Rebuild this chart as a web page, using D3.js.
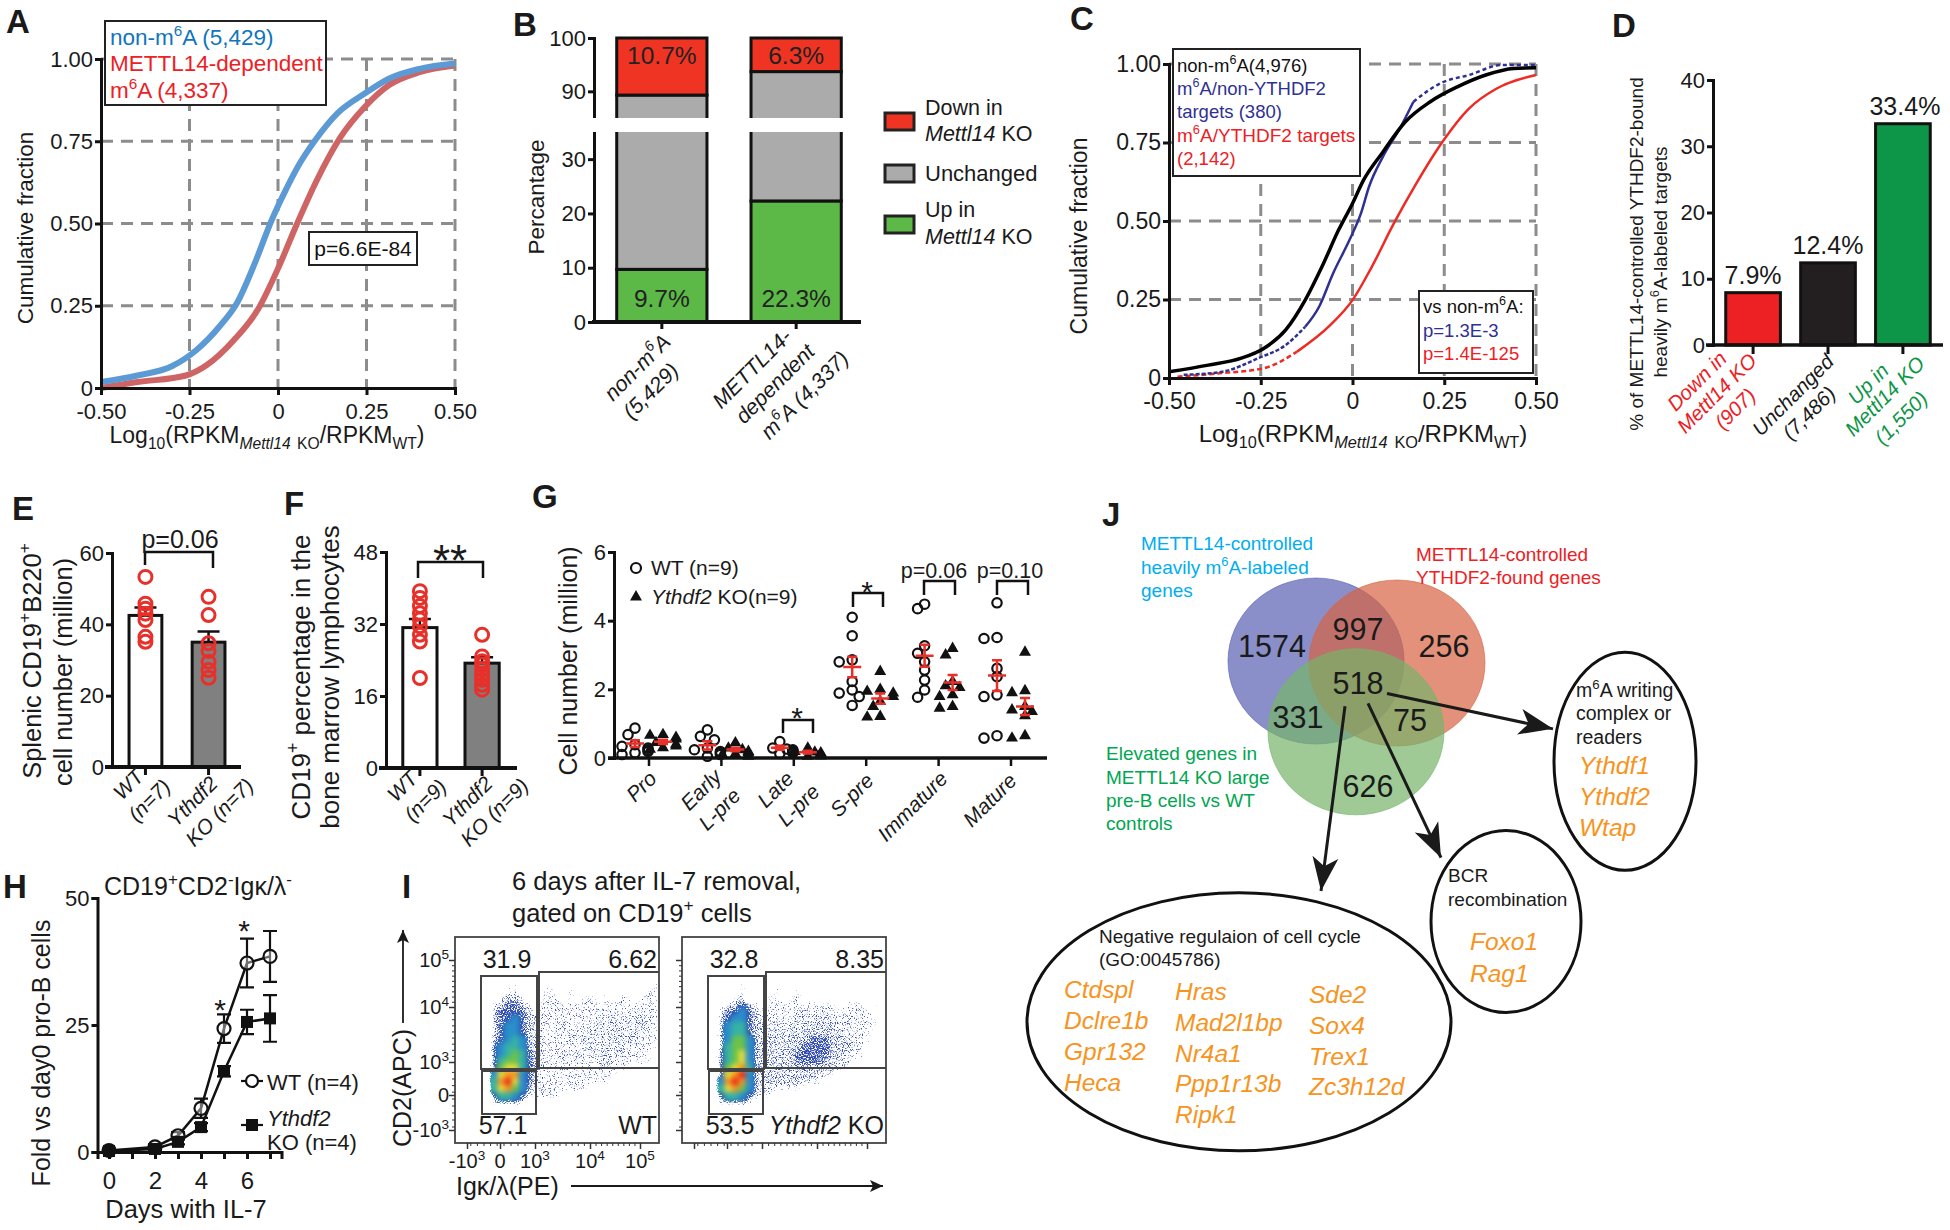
<!DOCTYPE html>
<html>
<head>
<meta charset="utf-8">
<script src="https://cdn.jsdelivr.net/npm/d3@7"></script>
<style>
  body { margin: 0; background: #fff; }
  svg text { font-family: "Liberation Sans", Arial, sans-serif; fill: #1a1a1a; }
</style>
</head>
<body>
<svg id="fig" width="1950" height="1230"></svg>
<script>
// ---- panel A: cumulative curves, [log ratio, fraction]
var aNonM6a = [[-0.5,0.018],[-0.397,0.038],[-0.3,0.066],[-0.232,0.114],[-0.163,0.19],[-0.115,0.26],[-0.066,0.378],[-0.018,0.51],[0.021,0.6],[0.06,0.68],[0.105,0.753],[0.167,0.834],[0.245,0.895],[0.313,0.94],[0.4,0.97],[0.5,0.986]];
var aMettl = [[-0.5,0],[-0.397,0.018],[-0.26,0.038],[-0.202,0.069],[-0.125,0.145],[-0.056,0.24],[0.002,0.368],[0.054,0.5],[0.109,0.63],[0.177,0.763],[0.245,0.854],[0.313,0.92],[0.4,0.96],[0.5,0.98]];
var curveTicksX = [-0.5,-0.25,0,0.25,0.5];
var curveTicksY = [0,0.25,0.5,0.75,1];

// ---- panel B
var bCategories = ["non-m6A","METTL14-dependent"];
var bUp = [9.7,22.3];
var bUnchanged = [79.6,71.4];
var bDown = [10.7,6.3];
var bTicks = [0,10,20,30,90,100];

// ---- panel C
var cNonM6a = [[-0.5,0.02],[-0.393,0.041],[-0.303,0.063],[-0.242,0.094],[-0.182,0.153],[-0.129,0.248],[-0.083,0.355],[-0.038,0.471],[0,0.556],[0.03,0.63],[0.083,0.72],[0.144,0.816],[0.212,0.88],[0.287,0.928],[0.363,0.965],[0.439,0.986],[0.5,0.988]];
var cNonYthdf2 = [[-0.46,0.01],[-0.355,0.02],[-0.257,0.063],[-0.182,0.105],[-0.129,0.163],[-0.091,0.227],[-0.053,0.333],[-0.008,0.44],[0.023,0.524],[0.045,0.609],[0.083,0.705],[0.129,0.795],[0.166,0.88],[0.242,0.94],[0.318,0.965],[0.408,0.997],[0.5,0.997]];
var cYthdf2 = [[-0.477,0.004],[-0.363,0.015],[-0.242,0.031],[-0.151,0.084],[-0.06,0.169],[0,0.248],[0.053,0.355],[0.113,0.493],[0.174,0.62],[0.242,0.747],[0.318,0.859],[0.393,0.922],[0.5,0.965]];

// ---- panel D
var dValues = [7.9,12.4,33.4];
var dLabels = ["7.9%","12.4%","33.4%"];
var dTicks = [0,10,20,30,40];

// ---- panel E
var eMeans = [42.5,35];
var eSem = [2.2,3];
var eWt = [53.3,45.8,44.4,43,41.2,36.5,35.1];
var eKo = [47.7,42.6,34.7,32.5,29.5,27.2,25];
var eTicks = [0,20,40,60];

// ---- panel F
var fMeans = [31.2,23.3];
var fSem = [1.9,1.3];
var fWt = [39.3,37.8,36,34.4,33,31.5,29.6,28.1,20];
var fKo = [29.6,24.8,23.7,23,21.9,20.7,19.6,18.5,17.4];
var fTicks = [0,16,32,48];

// ---- panel G
var gGroups = ["Pro","Early","Late","S-pre","Immature","Mature"];
var gWt = [
  [0.87,0.68,0.39,0.34,0.29,0.24,0.19,0.15,0.1],
  [0.82,0.63,0.53,0.29,0.24,0.19,0.15,0.1,0.05],
  [0.48,0.29,0.26,0.24,0.22,0.19,0.17,0.15,0.13],
  [4.1,3.56,2.86,2.8,2.23,1.98,1.89,1.79,1.53],
  [4.48,4.35,3.27,3.05,2.8,2.56,2.27,1.98,1.77],
  [4.52,3.51,3.48,2.61,2.37,1.84,1.79,0.65,0.58]
];
var gKo = [
  [0.68,0.66,0.6,0.55,0.45,0.4,0.35,0.3,0.25],
  [0.44,0.29,0.24,0.19,0.15,0.12,0.1,0.08,0.05],
  [0.29,0.19,0.17,0.15,0.12,0.1,0.08,0.06,0.05],
  [2.52,2,1.94,1.89,1.79,1.65,1.5,1.21,1.19],
  [3.19,3,2.23,2.1,2.05,1.84,1.79,1.5,1.45],
  [3.08,1.96,1.9,1.5,1.4,1.35,1.23,0.65,0.58]
];
var gWtMean = [0.42,0.37,0.3,2.65,2.98,2.4];
var gWtSem = [0.1,0.12,0.06,0.3,0.32,0.45];
var gKoMean = [0.47,0.25,0.17,1.73,2.2,1.5];
var gKoSem = [0.06,0.05,0.04,0.15,0.22,0.25];
var gTicks = [0,2,4,6];

// ---- panel H
var hDays = [0,2,3,4,5,6,7];
var hWt = [0.3,1,3.2,8.6,24.3,37.2,38.5];
var hWtSem = [0.3,0.5,0.7,1.9,2.8,4.8,5];
var hKo = [0.2,0.6,2,4.9,15.9,25.6,26.3];
var hKoSem = [0.2,0.3,0.5,0.8,1,2.4,4.6];
var hTicks = [0,1,2,3,4,5,6,7];
var hTickLabels = ["0","","2","","4","","6",""];

// ---- panel I: event density read by eye, one digit per cell (0 empty, 9 peak)
var iWtDensity = [
  "000000100001000000000000001",
  "000001100011001000100001011",
  "000012210011101011010110111",
  "000123321011111111111111111",
  "000233332111111111111111111",
  "000233432211111111112121211",
  "000234432211121111212121211",
  "000234432211111112121212111",
  "000234542211112121212122111",
  "000345542211111112121211111",
  "000345653211121212121211110",
  "000356653211111111121111110",
  "000367753211111111111110000",
  "000478843211111111111000000",
  "000589743111111111110000000",
  "000578642111111110000000000",
  "000355431111100000000000000",
  "000122210000000000000000000"
];
var iKoDensity = [
  "000000100000000000000000000",
  "000000100001001000000000000",
  "000001200011011010000000000",
  "000012321011111111110111010",
  "000233432111111211211111100",
  "000234432111112112211111110",
  "000245532212121222221211110",
  "000245532212122222222111100",
  "000246642222222233322211100",
  "000256642222222333322211000",
  "000356742222223333322111000",
  "000356742222223333222110000",
  "000367853222222222221100000",
  "000378942222222222110000000",
  "000489842222222211000000000",
  "000578642211111000000000000",
  "000355431110000000000000000",
  "000122210000000000000000000"
];
var iDensityColors = ["#ffffff","#3a55b5","#3a55b5","#2f4cb0","#2a8fca","#36b3a4","#6cc24a","#e6dc3a","#f5941f","#e8281e"];
var iDensityAlpha = [0,0.32,0.38,0.5,1,1,1,1,1,1];
var iPercentWt = ["31.9","6.62","57.1"];
var iPercentKo = ["32.8","8.35","53.5"];

// ---- panel J
var jRegions = ["1574","997","256","518","331","75","626"];
var jCycleGenes = [["Ctdspl","Dclre1b","Gpr132","Heca"],["Hras","Mad2l1bp","Nr4a1","Ppp1r13b","Ripk1"],["Sde2","Sox4","Trex1","Zc3h12d"]];
var jBcrGenes = ["Foxo1","Rag1"];
var jReaderGenes = ["Ythdf1","Ythdf2","Wtap"];

var RED = "#ed2024", BLUE = "#0f75bc", ORANGE = "#f7941d";

var svg = d3.select("#fig");
var defs = svg.append("defs");
defs.append("marker").attr("id","stealth").attr("markerUnits","userSpaceOnUse")
  .attr("viewBox","-2 -14 38 28").attr("refX",34).attr("refY",0)
  .attr("markerWidth",38).attr("markerHeight",28).attr("orient","auto")
  .append("path").attr("d","M0,-13L34,0L0,13L9,0Z").attr("fill","#1a1a1a");
defs.append("marker").attr("id","thin").attr("markerUnits","userSpaceOnUse")
  .attr("viewBox","-1 -7 15 14").attr("refX",13).attr("refY",0)
  .attr("markerWidth",15).attr("markerHeight",14).attr("orient","auto")
  .append("path").attr("d","M0,-6L13,0L0,6L3,0Z").attr("fill","#1a1a1a");

// grain for the flow plots: low density cells break up into specks, dense ones stay solid
var grain = defs.append("filter").attr("id","grain").attr("x","0").attr("y","0").attr("width","1").attr("height","1")
  .attr("color-interpolation-filters","sRGB");
grain.append("feGaussianBlur").attr("in","SourceGraphic").attr("stdDeviation",2.4).attr("result","soft");
grain.append("feTurbulence").attr("type","fractalNoise").attr("baseFrequency",0.85).attr("numOctaves",1).attr("seed",7).attr("result","noise");
grain.append("feColorMatrix").attr("in","noise").attr("type","matrix")
  .attr("values","0 0 0 0 0  0 0 0 0 0  0 0 0 0 0  1 0 0 0 0").attr("result","noiseA");
grain.append("feComposite").attr("in","noiseA").attr("in2","soft").attr("operator","arithmetic")
  .attr("k1",0).attr("k2",1).attr("k3",1).attr("k4",-0.92).attr("result","sum");
var maskT = grain.append("feComponentTransfer").attr("in","sum").attr("result","mask");
maskT.append("feFuncA").attr("type","linear").attr("slope",7).attr("intercept",0);
var solidT = grain.append("feComponentTransfer").attr("in","soft").attr("result","solid");
solidT.append("feFuncA").attr("type","linear").attr("slope",12).attr("intercept",0);
grain.append("feComposite").attr("in","solid").attr("in2","mask").attr("operator","in");

// ^x^ superscript, ~x~ subscript, *x* italic
function rich(x, y, str, size, color, anchor, rot) {
  var t = svg.append("text").attr("font-size",size).attr("text-anchor",anchor || "start");
  if (color) t.style("fill",color);
  if (rot !== undefined) t.attr("transform","translate("+x+","+y+") rotate("+rot+")");
  else t.attr("x",x).attr("y",y);
  var re = /(\^[^^]*\^|~[^~]*~|\*[^*]*\*)/;
  var pend = 0;
  str.split(re).forEach(function(part) {
    if (!part) return;
    var m = part[0], inner = part.slice(1,-1), s = t.append("tspan");
    if (m === "^" || m === "~") {
      var shift = m === "^" ? -0.42*size : 0.26*size;
      var it = inner[0] === "*";
      s.text(it ? inner.slice(1,-1) : inner).attr("font-size",size*0.68).attr("dy",pend + shift);
      if (it) s.attr("font-style","italic");
      pend = -shift;
    } else {
      if (pend) s.attr("dy",pend);
      pend = 0;
      if (m === "*") s.text(inner).attr("font-style","italic");
      else s.text(part);
    }
  });
  return t;
}

function star(x, y, size) {
  svg.append("text").attr("x",x).attr("y",y).attr("text-anchor","middle").attr("font-size",size).text("*");
}

function box(x, y, w, h) {
  svg.append("rect").attr("x",x).attr("y",y).attr("width",w).attr("height",h)
    .attr("fill","#fff").attr("stroke","#222").attr("stroke-width",2);
}

function axisStyle(g, size, width) {
  g.select(".domain").attr("stroke","#111").attr("stroke-width",width || 3);
  g.selectAll(".tick line").attr("stroke","#111").attr("stroke-width",width || 3);
  g.selectAll(".tick text").attr("font-size",size || 22).style("fill","#1a1a1a");
}
function leftAxis(scale, x, ticks, labels, size) {
  var g = svg.append("g").attr("transform","translate("+x+",0)")
    .call(d3.axisLeft(scale).tickValues(ticks).tickSizeOuter(0).tickSize(6).tickPadding(2)
      .tickFormat(function(d,i){ return labels ? labels[i] : d; }));
  axisStyle(g, size);
  return g;
}
function bottomAxis(scale, y, ticks, labels, size) {
  var g = svg.append("g").attr("transform","translate(0,"+y+")")
    .call(d3.axisBottom(scale).tickValues(ticks).tickSizeOuter(0).tickSize(7).tickPadding(8)
      .tickFormat(function(d,i){ return labels ? labels[i] : ""; }));
  axisStyle(g, size);
  return g;
}
function bracket(x0, x1, top, b0, b1) {
  svg.append("path").attr("fill","none").attr("stroke","#111").attr("stroke-width",2.5)
    .attr("d","M"+x0+","+b0+"V"+top+"H"+x1+"V"+b1);
}
function panelLetter(l, x, y) {
  svg.append("text").attr("x",x).attr("y",y).attr("font-size",33).attr("font-weight","bold").text(l);
}

// ---- cumulative panels A and C share this
function curvePanel(x, y, series, tickSize) {
  var grid = svg.append("g").attr("stroke","#8c8c8c").attr("stroke-width",3).attr("stroke-dasharray","12 8");
  curveTicksX.slice(1).forEach(function(t) {
    grid.append("line").attr("x1",x(t)).attr("x2",x(t)).attr("y1",y(1)).attr("y2",y(0));
  });
  curveTicksY.slice(1).forEach(function(t) {
    grid.append("line").attr("x1",x(-0.5)).attr("x2",x(0.5)).attr("y1",y(t)).attr("y2",y(t));
  });
  var line = d3.line().x(function(d){return x(d[0]);}).y(function(d){return y(d[1]);}).curve(d3.curveMonotoneX);
  series.forEach(function(s) {
    var p = svg.append("path").datum(s.data).attr("d",line).attr("fill","none")
      .attr("stroke",s.color).attr("stroke-width",s.width);
    if (s.dash) p.attr("stroke-dasharray",s.dash);
  });
  bottomAxis(x, y(0), curveTicksX, ["-0.50","-0.25","0","0.25","0.50"], tickSize);
  leftAxis(y.copy().domain([0,1]), x(-0.5), curveTicksY, ["0","0.25","0.50","0.75","1.00"], tickSize);
}

// Panel A
panelLetter("A",6,33);
var ax = d3.scaleLinear().domain([-0.5,0.5]).range([101,455]);
var ay = d3.scaleLinear().domain([0,1]).range([388,59]);
curvePanel(ax, ay, [{data:aMettl,color:"#cf6464",width:6},{data:aNonM6a,color:"#5b9ad4",width:6}], 22);
box(105,21,221,84);
rich(110,45,"non-m^6^A (5,429)",22.5,BLUE);
rich(110,71,"METTL14-dependent",22.5,RED);
rich(110,98,"m^6^A (4,337)",22.5,RED);
box(309,232,108,33);
rich(363,256,"p=6.6E-84",21,"#111","middle");
rich(33,228,"Cumulative fraction",22.5,"#1a1a1a","middle",-90);
rich(267,443,"Log~10~(RPKM~*Mettl14*~ ~KO~/RPKM~WT~)",23,"#1a1a1a","middle");

// Panel B, axis is broken between 35 and 85
panelLetter("B",513,36);
var by = d3.scaleLinear().domain([0,35,85,100]).range([322,132,118,38]);
var bx = d3.scaleBand().domain(bCategories).range([610,848]).paddingInner(0.328).paddingOuter(0.05);
var bSeries = d3.stack().keys(["up","unchanged","down"])(bCategories.map(function(c,i){
  return {cat:c, up:bUp[i], unchanged:bUnchanged[i], down:bDown[i]};
}));
var bColors = {up:"#5cb947",unchanged:"#ababab",down:"#f03423"};
bSeries.forEach(function(s) {
  svg.append("g").selectAll("rect").data(s).enter().append("rect")
    .attr("x",function(d){return bx(d.data.cat);})
    .attr("width",bx.bandwidth())
    .attr("y",function(d){return by(d[1]);})
    .attr("height",function(d){return by(d[0])-by(d[1]);})
    .attr("fill",bColors[s.key]).attr("stroke","#111").attr("stroke-width",3);
});
leftAxis(by,594,bTicks);
svg.append("rect").attr("x",585).attr("y",by(85)).attr("width",270).attr("height",by(35)-by(85)).attr("fill","#fff");
svg.append("line").attr("x1",592).attr("x2",861).attr("y1",by(0)).attr("y2",by(0)).attr("stroke","#111").attr("stroke-width",4);
bCategories.forEach(function(c,i) {
  var m = bx(c)+bx.bandwidth()/2;
  svg.append("line").attr("x1",m).attr("x2",m).attr("y1",by(0)).attr("y2",by(0)+7).attr("stroke","#111").attr("stroke-width",3);
  rich(m,by(100)+26,bDown[i]+"%",24.5,"#222","middle");
  rich(m,by(0)-15,bUp[i]+"%",24.5,"#222","middle");
});
rich(544,197,"Percantage",22.5,"#1a1a1a","middle",-90);
rich(672,343,"*non-m*^*6*^*A*",21.5,"#1a1a1a","end",-45);
rich(680,372,"*(5,429)*",21.5,"#1a1a1a","end",-45);
rich(793,338,"*METTL14-*",21.5,"#1a1a1a","end",-45);
rich(816,353,"*dependent*",21.5,"#1a1a1a","end",-45);
rich(850,360,"*m*^*6*^*A  (4,337)*",21.5,"#1a1a1a","end",-45);
[[113,"#f03423"],[165,"#ababab"],[216,"#5cb947"]].forEach(function(l) {
  svg.append("rect").attr("x",885).attr("y",l[0]).attr("width",29).attr("height",17)
    .attr("fill",l[1]).attr("stroke","#222").attr("stroke-width",3);
});
rich(925,115,"Down in",21.5);
rich(925,141,"*Mettl14* KO",21.5);
rich(925,181,"Unchanged",22);
rich(925,217,"Up in",21.5);
rich(925,244,"*Mettl14* KO",21.5);

// Panel C
panelLetter("C",1070,30);
var cx = d3.scaleLinear().domain([-0.5,0.5]).range([1169,1536]);
var cy = d3.scaleLinear().domain([0,1]).range([378,64]);
curvePanel(cx, cy, [
  {data:cYthdf2.slice(0,4),color:"#ee2a24",width:2.5,dash:"5 3"},
  {data:cYthdf2.slice(3),color:"#ee2a24",width:2.5},
  {data:cNonYthdf2.slice(0,5),color:"#2e3192",width:2.5,dash:"4 2"},
  {data:cNonYthdf2.slice(4,13),color:"#2e3192",width:2.5},
  {data:cNonYthdf2.slice(12),color:"#2e3192",width:2.5,dash:"4 3"},
  {data:cNonM6a,color:"#000",width:3.5}
], 23);
box(1173,49,187,127);
rich(1177,72,"non-m^6^A(4,976)",18.5,"#111");
rich(1177,95,"m^6^A/non-YTHDF2",18.5,"#2e3192");
rich(1177,118,"targets (380)",18.5,"#2e3192");
rich(1177,142,"m^6^A/YTHDF2 targets",19,RED);
rich(1177,165,"(2,142)",18.5,RED);
box(1419,291,114,82);
rich(1423,313,"vs non-m^6^A:",18.5,"#111");
rich(1423,337,"p=1.3E-3",18.5,"#2e3192");
rich(1423,360,"p=1.4E-125",18.5,RED);
rich(1087,236,"Cumulative fraction",23,"#1a1a1a","middle",-90);
rich(1363,442,"Log~10~(RPKM~*Mettl14*~ ~KO~/RPKM~WT~)",24,"#1a1a1a","middle");

// Panel D
panelLetter("D",1612,37);
var dx = d3.scaleBand().domain([0,1,2]).range([1713,1943]).paddingInner(0.27).paddingOuter(0.17);
var dy = d3.scaleLinear().domain([0,40]).range([345,80]);
var dFill = [RED,"#231f20","#0d9647"];
svg.append("g").selectAll("rect").data(dValues).enter().append("rect")
  .attr("x",function(d,i){return dx(i);}).attr("width",dx.bandwidth())
  .attr("y",function(d){return dy(d);}).attr("height",function(d){return dy(0)-dy(d);})
  .attr("fill",function(d,i){return dFill[i];}).attr("stroke","#111").attr("stroke-width",3);
leftAxis(dy,1713,dTicks);
svg.append("line").attr("x1",1706).attr("x2",1943).attr("y1",dy(0)).attr("y2",dy(0)).attr("stroke","#111").attr("stroke-width",3.5);
dValues.forEach(function(v,i) {
  var m = dx(i)+dx.bandwidth()/2;
  svg.append("line").attr("x1",m).attr("x2",m).attr("y1",dy(0)).attr("y2",dy(0)+9).attr("stroke","#111").attr("stroke-width",3);
  rich(m+(i==2?2:0),dy(v)-9,dLabels[i],25,"#1a1a1a","middle");
});
rich(1643,254,"% of METTL14-controlled YTHDF2-bound",19,"#1a1a1a","middle",-90);
rich(1667,262,"heavily m^6^A-labeled targets",19,"#1a1a1a","middle",-90);
rich(1728,360,"*Down in*",20.5,RED,"end",-45);
rich(1758,362,"*Mettl14* *KO*",20.5,RED,"end",-45);
rich(1757,397,"*(907)*",20.5,RED,"end",-45);
rich(1835,363,"*Unchanged*",20.5,"#1a1a1a","end",-45);
rich(1837,395,"*(7,486)*",20.5,"#1a1a1a","end",-45);
rich(1890,372,"*Up in*",20.5,"#0d9647","end",-45);
rich(1926,365,"*Mettl14* *KO*",20.5,"#0d9647","end",-45);
rich(1929,400,"*(1,550)*",20.5,"#0d9647","end",-45);

// Panels E and F, bar with open red points
function barPointPanel(opts) {
  var x = d3.scaleBand().domain([0,1]).range(opts.xr).paddingInner(opts.inner).paddingOuter(opts.outer);
  var y = d3.scaleLinear().domain(opts.domain).range(opts.yr);
  var fills = ["#fff","#808080"];
  opts.means.forEach(function(m,i) {
    var c = x(i)+x.bandwidth()/2;
    svg.append("rect").attr("x",x(i)).attr("width",x.bandwidth()).attr("y",y(m)).attr("height",y(0)-y(m))
      .attr("fill",fills[i]).attr("stroke","#111").attr("stroke-width",3);
    svg.append("path").attr("fill","none").attr("stroke","#111").attr("stroke-width",2.5)
      .attr("d","M"+c+","+y(m)+"V"+y(m+opts.sem[i])+"M"+(c-11)+","+y(m+opts.sem[i])+"H"+(c+11));
    svg.append("g").selectAll("circle").data(opts.points[i]).enter().append("circle")
      .attr("cx",c).attr("cy",function(d){return y(d);}).attr("r",6.5)
      .attr("fill","none").attr("stroke","#e8302a").attr("stroke-width",3);
  });
  leftAxis(y,opts.axisX,opts.ticks);
  svg.append("line").attr("x1",opts.base[0]).attr("x2",opts.base[1]).attr("y1",y(0)).attr("y2",y(0)).attr("stroke","#111").attr("stroke-width",4);
  [0,1].forEach(function(i) {
    var c = x(i)+x.bandwidth()/2;
    svg.append("line").attr("x1",c).attr("x2",c).attr("y1",y(0)).attr("y2",y(0)+8).attr("stroke","#111").attr("stroke-width",3);
  });
}
panelLetter("E",12,520);
barPointPanel({xr:[112,242],inner:0.48,outer:0.27,domain:[0,60],yr:[767,553],axisX:112,ticks:eTicks,means:eMeans,sem:eSem,points:[eWt,eKo],base:[105,241]});
bracket(145,213,552,565,568);
rich(180,548,"p=0.06",25,"#1a1a1a","middle");
rich(41,661,"Splenic CD19^+^B220^+^",25.5,"#1a1a1a","middle",-90);
rich(72,672,"cell number (million)",25.5,"#1a1a1a","middle",-90);
rich(145,778,"*WT*",21,"#1a1a1a","end",-45);
rich(172,788,"*(n=7)*",21,"#1a1a1a","end",-45);
rich(219,785,"*Ythdf2*",21,"#1a1a1a","end",-45);
rich(255,787,"*KO (n=7)*",21,"#1a1a1a","end",-45);

panelLetter("F",284,515);
barPointPanel({xr:[386,516],inner:0.45,outer:0.27,domain:[0,48],yr:[768,552],axisX:386,ticks:fTicks,means:fMeans,sem:fSem,points:[fWt,fKo],base:[379,517]});
bracket(418,483,562,578,578);
svg.append("text").attr("x",450).attr("y",576).attr("text-anchor","middle").attr("font-size",44).text("**");
rich(310,677,"CD19^+^ percentage in the",26,"#1a1a1a","middle",-90);
rich(339,677,"bone marrow lymphocytes",26,"#1a1a1a","middle",-90);
rich(419,780,"*WT*",21,"#1a1a1a","end",-45);
rich(448,788,"*(n=9)*",21,"#1a1a1a","end",-45);
rich(494,785,"*Ythdf2*",21,"#1a1a1a","end",-45);
rich(530,787,"*KO (n=9)*",21,"#1a1a1a","end",-45);

// Panel G
panelLetter("G",532,508);
var gx = d3.scalePoint().domain(gGroups).range([649,1011]);
var gy = d3.scaleLinear().domain([0,6]).range([758,552]);
function dodge(vals, center) {
  // spread overlapping points sideways instead of stacking them
  var placed = [];
  return vals.slice().sort(d3.descending).map(function(v) {
    var py = gy(v), offs = [0,-7,7,-13,13], px = center;
    for (var k = 0; k < offs.length; k++) {
      var hit = placed.some(function(p){ return Math.hypot(p[0]-(center+offs[k]),p[1]-py) < 8; });
      px = center+offs[k];
      if (!hit) break;
    }
    placed.push([px,py]);
    return [px,py];
  });
}
var tri = d3.symbol().type(d3.symbolTriangle).size(62);
gGroups.forEach(function(g,i) {
  dodge(gWt[i],gx(g)-14).forEach(function(p) {
    svg.append("circle").attr("cx",p[0]).attr("cy",p[1]).attr("r",4.7).attr("fill","none").attr("stroke","#111").attr("stroke-width",2.2);
  });
  dodge(gKo[i],gx(g)+14).forEach(function(p) {
    svg.append("path").attr("d",tri()).attr("transform","translate("+p[0]+","+p[1]+")").attr("fill","#111");
  });
  [[gWtMean,gWtSem,-14],[gKoMean,gKoSem,14]].forEach(function(s) {
    var c = gx(g)+s[2], m = s[0][i], e = s[1][i];
    svg.append("path").attr("fill","none").attr("stroke","#e8302a").attr("stroke-width",2.5)
      .attr("d","M"+(c-9)+","+gy(m)+"H"+(c+9)+"M"+c+","+gy(m-e)+"V"+gy(m+e)+"M"+(c-5)+","+gy(m-e)+"H"+(c+5)+"M"+(c-5)+","+gy(m+e)+"H"+(c+5));
  });
});
leftAxis(gy,614,gTicks);
svg.append("line").attr("x1",608).attr("x2",1047).attr("y1",gy(0)).attr("y2",gy(0)).attr("stroke","#111").attr("stroke-width",3.5);
gGroups.forEach(function(g) {
  svg.append("line").attr("x1",gx(g)).attr("x2",gx(g)).attr("y1",gy(0)).attr("y2",gy(0)+8).attr("stroke","#111").attr("stroke-width",2.5);
});
rich(577,661,"Cell number (million)",25,"#1a1a1a","middle",-90);
svg.append("circle").attr("cx",636).attr("cy",568).attr("r",5).attr("fill","none").attr("stroke","#111").attr("stroke-width",2.2);
svg.append("path").attr("d",tri()).attr("transform","translate(636,597)").attr("fill","#111");
rich(651,575,"WT (n=9)",21);
rich(651,604,"*Ythdf2* KO(n=9)",21);
bracket(783,813,720,733,733);
bracket(853,883,593,607,607);
bracket(924,955,581,595,595);
bracket(997,1028,581,595,595);
star(797,728,30);
star(867,602,30);
rich(934,578,"p=0.06",21.5,"#1a1a1a","middle");
rich(1010,578,"p=0.10",21.5,"#1a1a1a","middle");
rich(658,780,"*Pro*",21,"#1a1a1a","end",-45);
rich(723,778,"*Early*",21,"#1a1a1a","end",-45);
rich(742,797,"*L-pre*",21,"#1a1a1a","end",-45);
rich(795,780,"*Late*",21,"#1a1a1a","end",-45);
rich(821,793,"*L-pre*",21,"#1a1a1a","end",-45);
rich(875,782,"*S-pre*",21,"#1a1a1a","end",-45);
rich(949,780,"*Immature*",21,"#1a1a1a","end",-45);
rich(1018,782,"*Mature*",21,"#1a1a1a","end",-45);

// Panel H
panelLetter("H",3,898);
var hx = d3.scaleLinear().domain([-0.5,7.5]).range([97.5,281.5]);
var hy = d3.scaleLinear().domain([0,50]).range([1152,898]);
var hLine = d3.line().x(function(d){return hx(d[0]);}).y(function(d){return hy(d[1]);});
[[hWt,hWtSem],[hKo,hKoSem]].forEach(function(s) {
  svg.append("path").attr("d",hLine(hDays.map(function(d,i){return [d,s[0][i]];})))
    .attr("fill","none").attr("stroke","#111").attr("stroke-width",2.5);
  hDays.forEach(function(d,i) {
    var c = hx(d), t = hy(s[0][i]+s[1][i]), b = hy(Math.max(0,s[0][i]-s[1][i]));
    svg.append("path").attr("fill","none").attr("stroke","#111").attr("stroke-width",2.2)
      .attr("d","M"+c+","+t+"V"+b+"M"+(c-7)+","+t+"H"+(c+7)+"M"+(c-7)+","+b+"H"+(c+7));
  });
});
svg.append("g").selectAll("circle").data(hWt).enter().append("circle")
  .attr("cx",function(d,i){return hx(hDays[i]);}).attr("cy",function(d){return hy(d);}).attr("r",6.5)
  .attr("fill","#fff").attr("fill-opacity",0.4).attr("stroke","#111").attr("stroke-width",2.2);
svg.append("g").selectAll("rect").data(hKo).enter().append("rect")
  .attr("x",function(d,i){return hx(hDays[i])-6;}).attr("y",function(d){return hy(d)-6;}).attr("width",12).attr("height",12).attr("fill","#111");
var hxa = bottomAxis(hx,hy(0),hTicks,hTickLabels,24);
hxa.selectAll(".tick text").attr("dy","0.9em");
leftAxis(hy.copy().domain([0,50]),97.5,[0,25,50]);
rich(104,895,"CD19^+^CD2^-^Igκ/λ^-^",25);
rich(50,1053,"Fold vs day0 pro-B cells",25,"#1a1a1a","middle",-90);
rich(186,1218,"Days with IL-7",25.5,"#1a1a1a","middle");
star(220,1020,30);
star(244,941,30);
svg.append("line").attr("x1",241).attr("x2",263).attr("y1",1081).attr("y2",1081).attr("stroke","#111").attr("stroke-width",2.2);
svg.append("circle").attr("cx",252).attr("cy",1081).attr("r",6).attr("fill","#fff").attr("stroke","#111").attr("stroke-width",2.2);
rich(267,1090,"WT (n=4)",22);
svg.append("line").attr("x1",241).attr("x2",263).attr("y1",1125).attr("y2",1125).attr("stroke","#111").attr("stroke-width",2.2);
svg.append("rect").attr("x",246).attr("y",1119).attr("width",12).attr("height",12).attr("fill","#111");
rich(267,1126,"*Ythdf2*",22);
rich(267,1150,"KO (n=4)",22);

// Panel I, biexponential axes as piecewise scales
panelLetter("I",402,898);
function flowPanel(x0, density, pct, name) {
  var w = 204, top = 937, bottom = 1143;
  var fx = d3.scaleLinear().domain([-1000,0,1000,10000,100000]).range([x0+12,x0+45,x0+80,x0+135,x0+185]);
  var fy = d3.scaleLinear().domain([-1000,0,1000,10000,100000]).range([1130,1095,1062,1007,960]);
  var colBand = d3.scaleBand().domain(d3.range(27)).range([x0+14.5,x0+203.5]);
  var rowBand = d3.scaleBand().domain(d3.range(18)).range([980,1106]);
  var clip = "clip"+x0;
  defs.append("clipPath").attr("id",clip).append("rect").attr("x",x0).attr("y",top).attr("width",w).attr("height",bottom-top);
  var cells = svg.append("g").attr("clip-path","url(#"+clip+")").append("g").attr("filter","url(#grain)");
  // filter region has to cover the whole plot so the edges are not cut
  cells.append("rect").attr("x",x0).attr("y",top).attr("width",w).attr("height",bottom-top).attr("fill","#fff").attr("fill-opacity",0);
  density.forEach(function(row,r) {
    row.split("").forEach(function(ch,c) {
      if (ch === "0") return;
      cells.append("rect").attr("x",colBand(c)).attr("y",rowBand(r))
        .attr("width",colBand.bandwidth()+0.5).attr("height",rowBand.bandwidth()+0.5)
        .attr("fill",iDensityColors[+ch]).attr("fill-opacity",iDensityAlpha[+ch]);
    });
  });
  svg.append("rect").attr("x",x0).attr("y",top).attr("width",w).attr("height",bottom-top)
    .attr("fill","none").attr("stroke","#444").attr("stroke-width",1.8);
  var gate = svg.append("g").attr("fill","none").attr("stroke","#444").attr("stroke-width",2);
  gate.append("rect").attr("x",x0+26).attr("y",976).attr("width",56).attr("height",93);
  gate.append("rect").attr("x",x0+27).attr("y",1071).attr("width",54).attr("height",43);
  gate.append("path").attr("d","M"+(x0+w)+",972H"+(x0+84)+"V1068H"+(x0+w));
  var minorY = [-900,-700,-500,-300,-100,100,300,500,700,2000,3000,4000,5000,6000,7000,8000,9000,20000,30000,40000,50000,60000,70000,80000,90000];
  var ya = svg.append("g").attr("transform","translate("+x0+",0)");
  ya.call(d3.axisLeft(fy).tickValues(minorY).tickSize(3).tickFormat("").tickSizeOuter(0));
  ya.select(".domain").remove();
  ya.selectAll("line").attr("stroke","#333").attr("stroke-width",1);
  var ym = svg.append("g").attr("transform","translate("+x0+",0)");
  ym.call(d3.axisLeft(fy).tickValues([-1000,0,1000,10000,100000]).tickSize(6).tickFormat(""));
  ym.select(".domain").remove();
  ym.selectAll("line").attr("stroke","#333").attr("stroke-width",1.5);
  var xa = svg.append("g").attr("transform","translate(0,"+bottom+")");
  xa.call(d3.axisBottom(fx).tickValues(minorY).tickSize(3).tickFormat("").tickSizeOuter(0));
  xa.select(".domain").remove();
  xa.selectAll("line").attr("stroke","#333").attr("stroke-width",1);
  var xm = svg.append("g").attr("transform","translate(0,"+bottom+")");
  xm.call(d3.axisBottom(fx).tickValues([-1000,0,1000,10000,100000]).tickSize(6).tickFormat(""));
  xm.select(".domain").remove();
  xm.selectAll("line").attr("stroke","#333").attr("stroke-width",1.5);
  rich(x0+52,968,pct[0],25,"#1a1a1a","middle");
  rich(x0+202,968,pct[1],25,"#1a1a1a","end");
  rich(x0+48,1134,pct[2],25,"#1a1a1a","middle");
  rich(x0+202,1134,name,25,"#1a1a1a","end");
  return {fx:fx, fy:fy};
}
var wtFlow = flowPanel(455,iWtDensity,iPercentWt,"WT");
flowPanel(682,iKoDensity,iPercentKo,"*Ythdf2* KO");
[[-1000,"-10^3^"],[0,"0"],[1000,"10^3^"],[10000,"10^4^"],[100000,"10^5^"]].forEach(function(t) {
  rich(wtFlow.fx(t[0]),1168,t[1],20,"#1a1a1a","middle");
  rich(449,wtFlow.fy(t[0])+7,t[1],20,"#1a1a1a","end");
});
rich(512,890,"6 days after IL-7 removal,",25.5);
rich(512,922,"gated on CD19^+^ cells",25.5);
rich(411,1088,"CD2(APC)",25,"#1a1a1a","middle",-90);
rich(456,1195,"Igκ/λ(PE)",25);
svg.append("line").attr("x1",403).attr("x2",403).attr("y1",1023).attr("y2",930).attr("stroke","#1a1a1a").attr("stroke-width",1.8).attr("marker-end","url(#thin)");
svg.append("line").attr("x1",571).attr("x2",883).attr("y1",1186).attr("y2",1186).attr("stroke","#1a1a1a").attr("stroke-width",1.8).attr("marker-end","url(#thin)");

// Panel J
panelLetter("J",1102,526);
function jY(y) { return 490+(y-490)*0.983; }
[[1316,664,88,83,"#585fb2"],[1397,666,88,83,"#d76241"],[1356,736,88,83,"#76b46a"]].forEach(function(c) {
  svg.append("ellipse").attr("cx",c[0]).attr("cy",jY(c[1])).attr("rx",c[2]).attr("ry",c[3])
    .attr("fill",c[4]).attr("fill-opacity",0.7).attr("stroke",c[4]).attr("stroke-opacity",0.6);
});
[[1272,660],[1358,643],[1444,660],[1358,698],[1298,732],[1410,735],[1368,802]].forEach(function(p,i) {
  rich(p[0],jY(p[1]),jRegions[i],30.5,"#1a1a1a","middle");
});
rich(1141,jY(551),"METTL14-controlled",19,"#00aeef");
rich(1141,jY(575),"heavily m^6^A-labeled",19,"#00aeef");
rich(1141,jY(599),"genes",19,"#00aeef");
rich(1416,jY(562),"METTL14-controlled",19,RED);
rich(1416,jY(586),"YTHDF2-found genes",19,RED);
["Elevated genes in","METTL14 KO large","pre-B cells vs WT","controls"].forEach(function(s,i) {
  rich(1106,jY(765+i*23.7),s,19,"#00a651");
});
[[1345,710,1321,898],[1368,707,1441,864],[1387,697,1553,733]].forEach(function(a) {
  svg.append("line").attr("x1",a[0]).attr("y1",jY(a[1])).attr("x2",a[2]).attr("y2",jY(a[3]))
    .attr("stroke","#1a1a1a").attr("stroke-width",3).attr("marker-end","url(#stealth)");
});
[[1239,1031,212,129],[1506,929,75,91],[1625,766,71,109]].forEach(function(e) {
  svg.append("ellipse").attr("cx",e[0]).attr("cy",jY(e[1])).attr("rx",e[2]).attr("ry",e[3])
    .attr("fill","none").attr("stroke","#111").attr("stroke-width",3);
});
rich(1099,jY(951),"Negative regulaion of cell cycle",19,"#1a1a1a");
rich(1099,jY(974),"(GO:0045786)",19,"#1a1a1a");
[[1064,1007],[1175,1009],[1309,1012]].forEach(function(p,k) {
  jCycleGenes[k].forEach(function(g,i) {
    rich(p[0],jY(p[1]+i*31.3),"*"+g+"*",24.5,ORANGE);
  });
});
rich(1448,jY(889),"BCR",19);
rich(1448,jY(913),"recombination",19);
jBcrGenes.forEach(function(g,i){ rich(1470,jY(958+i*32),"*"+g+"*",24.5,ORANGE); });
rich(1576,jY(701),"m^6^A writing",19.5);
rich(1576,jY(724),"complex or",19.5);
rich(1576,jY(748),"readers",19.5);
jReaderGenes.forEach(function(g,i){ rich(1579,jY(779+i*31.5),"*"+g+"*",24.5,ORANGE); });
</script>
</body>
</html>
